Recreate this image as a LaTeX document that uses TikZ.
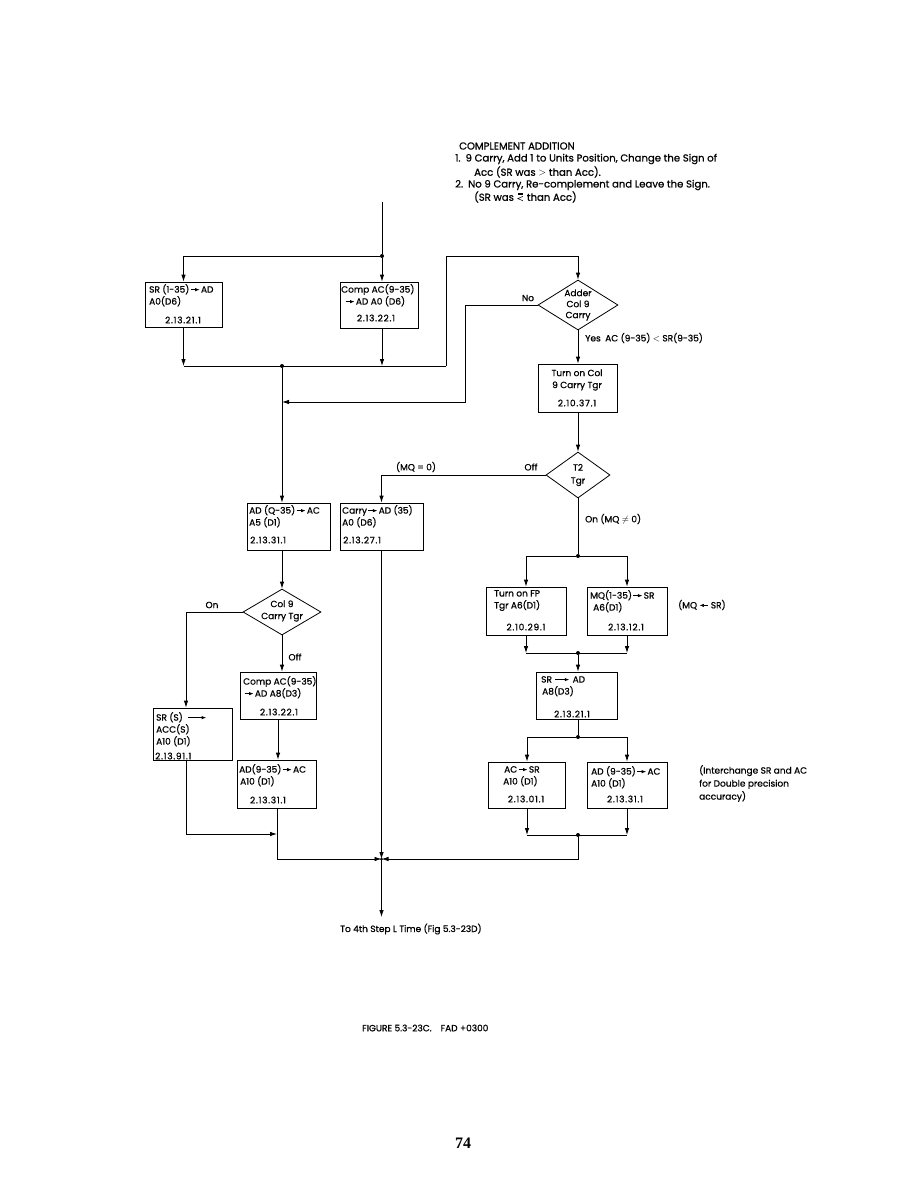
\documentclass[tikz,border=0pt]{standalone}
\usepackage{amsmath,amssymb}
\usepackage{fontspec}
\setmainfont{Poppins}[FakeBold=0.8]
\newfontfamily\numfont[LetterSpace=8,FakeBold=0.8]{Poppins}
\newfontfamily\pgfont{Liberation Serif}
\usetikzlibrary{shapes.geometric,arrows.meta,calc}
\newcommand\myra[1][9]{\kern1pt\tikz[baseline=-0.6ex,x=1pt,y=1pt]\draw[line width=0.7pt,-{Latex[length=4.5pt,width=3.4pt]}](0,0)--(#1,0);\kern1pt}
\newcommand\myla[1][9]{\kern2pt\tikz[baseline=-0.6ex,x=1pt,y=1pt]\draw[line width=0.7pt,{Latex[length=4.5pt,width=3.4pt]}-](0,0)--(#1,0);\kern2pt}
\newcommand\myeqless{\kern1pt\tikz[baseline=0pt,x=1pt,y=1pt]{\draw[line width=0.55pt](5,0)--(0,2.2)--(5,4.4);\draw[line width=0.55pt](0.5,6.2)--(4.8,6.2)(0.5,7.8)--(4.8,7.8);}\kern1pt}
\tikzset{
 box/.style={draw, line width=0.8pt, inner sep=0pt},
 dec/.style={draw, diamond, line width=0.8pt, inner sep=0pt},
 txt/.style={inner sep=0pt, font=\fontsize{9}{12}\selectfont, align=left},
 head/.style={inner sep=0pt, font=\fontsize{10.1}{12}\selectfont, align=left},
 num/.style={inner sep=0pt, font=\fontsize{9}{12}\selectfont\numfont},
 wire/.style={line width=0.8pt},
 arr/.style={line width=0.8pt, -{Latex[length=7pt,width=4.5pt]}},
 dot/.style={circle, fill, inner sep=0pt, minimum size=4pt},
}
\begin{document}
\begin{tikzpicture}[x=1pt,y=-1pt]
\fill[white] (0,0) rectangle (923,1192);
\useasboundingbox (0,0) rectangle (923,1192);

% ---- heading
\node[head,anchor=west] (h0) at (459,146) {COMPLEMENT ADDITION};
\node[head,anchor=west] (h1) at (455,159) {1.\enspace 9 Carry, Add 1 to Units Position, Change the Sign of};
\node[head,anchor=west] (h2) at (474,172) {Acc (SR was $>$ than Acc).};
\node[head,anchor=west] (h3) at (455,185) {2.\enspace No 9 Carry, Re-complement and Leave the Sign.};
\node[head,anchor=west] (h4) at (474,197) {(SR was \myeqless\ than Acc)};

% ---- boxes
\node[box,minimum width=77pt,minimum height=45pt] (sr1) at (183.5,304.5) {};
\node[txt,anchor=north west] (sr1t) at (149,284) {SR (1-35)\myra AD\\A0(D6)};
\node[num] (sr1n) at (183,320) {2.13.21.1};

\node[box,minimum width=78pt,minimum height=46pt] (comp1) at (379,305) {};
\node[txt,anchor=north west] (comp1t) at (341,284) {Comp AC(9-35)\\\hspace*{3pt}\myra AD A0 (D6)};
\node[num] (comp1n) at (376,318) {2.13.22.1};

\node[dec,minimum width=80pt,minimum height=50pt] (adder) at (578,305) {};
\node[txt,align=center,font=\fontsize{9}{11}\selectfont] (addert) at (578,305) {Adder\\Col 9\\Carry};

\node[box,minimum width=79pt,minimum height=48pt] (col9) at (578,388) {};
\node[txt,align=center] (col9t) at (577,380) {Turn on Col\\9 Carry Tgr};
\node[num] (col9n) at (577,403) {2.10.37.1};

\node[dec,minimum width=64pt,minimum height=46pt] (t2) at (578,475) {};
\node[txt,align=center,font=\fontsize{9}{13}\selectfont] (t2t) at (578,475) {T2\\Tgr};

\node[box,minimum width=83pt,minimum height=47pt] (ad1) at (288.5,526.5) {};
\node[txt,anchor=north west] (ad1t) at (249,505) {AD (Q-35)\myra AC\\A5 (D1)};
\node[num,anchor=west] (ad1n) at (250,540) {2.13.31.1};

\node[box,minimum width=83pt,minimum height=47pt] (carry) at (381.5,526.5) {};
\node[txt,anchor=north west] (carryt) at (342,505) {Carry\myra AD (35)\\A0 (D6)};
\node[num,anchor=west] (carryn) at (343,540) {2.13.27.1};

\node[dec,minimum width=78pt,minimum height=46pt] (col9b) at (282,612) {};
\node[txt,align=center] (col9bt) at (282,611) {Col 9\\Carry Tgr};

\node[box,minimum width=76pt,minimum height=47pt] (compac2) at (278,695.5) {};
\node[txt,anchor=north west] (compac2t) at (243,676) {Comp AC(9-35)\\\myra AD A8(D3)};
\node[num] (compac2n) at (279,712) {2.13.22.1};

\node[box,minimum width=79pt,minimum height=52pt] (ssr) at (192.5,734) {};
\node[txt,anchor=north west] (ssrt) at (156,712) {SR (S)\hspace{4pt}\myra[18]\\ACC(S)\\A10 (D1)};
\node[num,anchor=west] (ssrn) at (155,756) {2.13.91.1};

\node[box,minimum width=79pt,minimum height=48pt] (ad4) at (277,784) {};
\node[txt,anchor=north west] (ad4t) at (239,764) {AD(9-35)\myra AC\\\hspace*{1pt}A10 (D1)};
\node[num] (ad4n) at (268,800) {2.13.31.1};

\node[box,minimum width=80pt,minimum height=48pt] (fp) at (526,611) {};
\node[txt,anchor=north west] (fpt) at (494,590) {Turn on FP\\Tgr A6(D1)};
\node[num] (fpn) at (526,627) {2.10.29.1};

\node[box,minimum width=80pt,minimum height=48pt] (mq) at (627,611) {};
\node[txt,anchor=north west] (mqt) at (590,590) {MQ(1-35)\myra SR\\\hspace*{3pt}A6(D1)};
\node[num] (mqn) at (626,627) {2.13.12.1};
\node[txt,anchor=west] (mqnote) at (678,605) {(MQ\myla SR)};

\node[box,minimum width=81pt,minimum height=47pt] (sr2) at (576.5,695.5) {};
\node[txt,anchor=north west] (sr2t) at (541,676) {SR\hspace{2pt}\myra[14]\hspace{2pt}AD\\\hspace*{1pt}A8(D3)};
\node[num] (sr2n) at (572,714) {2.13.21.1};

\node[box,minimum width=77pt,minimum height=46pt] (acsr) at (527,785) {};
\node[txt,anchor=north west] (acsrt) at (503,766) {\hspace*{1pt}AC\myra SR\\A10 (D1)};
\node[num] (acsrn) at (526,799) {2.13.01.1};

\node[box,minimum width=80pt,minimum height=46pt] (ad3) at (627,785) {};
\node[txt,anchor=north west] (ad3t) at (591,766) {AD (9-35)\myra AC\\A10 (D1)};
\node[num] (ad3n) at (625,799) {2.13.31.1};
\node[txt,anchor=north west,font=\fontsize{9}{13}\selectfont] (note) at (699,765) {(Interchange SR and AC\\for Double precision\\accuracy)};

% ---- labels
\node[txt] (lno) at (528,298) {No};
\node[txt,anchor=west] (lyes) at (585,338) {Yes\enspace AC (9-35) $<$ SR(9-35)};
\node[txt] (loff) at (531,467) {Off};
\node[txt] (lmq0) at (416,467) {(MQ = 0)};
\node[txt,anchor=west] (lon) at (585,519) {On (MQ $\neq$ 0)};
\node[txt] (lon2) at (212,605) {On};
\node[txt] (loff2) at (295,657) {Off};
\node[txt,anchor=west] (lout) at (340,929) {To 4th Step L Time (Fig 5.3-23D)};
\node[txt,anchor=west] (fig) at (362,1028) {FIGURE 5.3-23C.\quad FAD +0300};
\node[inner sep=0pt,font=\fontsize{16}{18}\selectfont\pgfont\bfseries] (pg) at (463,1143) {74};

% ---- connectors
\coordinate (in) at (382,202);
\node[dot] (d1) at (382,256) {};
\draw[wire] (in) -- (d1);
\draw[arr] (d1) -- (d1 |- comp1.north);
\draw[arr] (d1) -| (sr1.north);

\node[dot] (d2) at (282,366) {};
\coordinate (m1r) at (446,366);
\coordinate (m1t) at (446,256);
\draw[arr] (sr1.south) -- (sr1.south |- d2);
\draw[arr] (d1 |- comp1.south) -- (d1 |- d2);
\draw[wire] (sr1.south |- d2) -- (m1r);
\draw[arr] (m1r) -- (m1t) -| (adder.north);

\coordinate (n1) at (465,305);
\coordinate (n2) at (465,402);
\coordinate (nj) at (282,402);
\draw[arr] (adder.west) -- (n1) -- (n2) -- (nj);
\draw[arr] (d2) -- (d2 |- ad1.north);

\draw[arr] (adder.south) -- (col9.north);
\draw[arr] (col9.south) -- (t2.north);
\draw[arr] (t2.west) -| (carry.north);

\node[dot] (d3) at (578,556) {};
\draw[wire] (t2.south) -- (d3);
\draw[arr] (d3) -| (fp.north);
\draw[arr] (d3) -| (mq.north);

\node[dot] (d4) at (578,653) {};
\draw[arr] (fp.south) -- (fp.south |- d4);
\draw[arr] (mq.south) -- (mq.south |- d4);
\draw[wire] (fp.south |- d4) -- (mq.south |- d4);
\draw[arr] (d4) -- (d4 |- sr2.north);

\node[dot] (d5) at (578,737) {};
\draw[wire] (d5 |- sr2.south) -- (d5);
\draw[arr] (d5) -| (acsr.north);
\draw[arr] (d5) -| (ad3.north);

\node[dot] (d6) at (578,835) {};
\draw[arr] (acsr.south) -- (acsr.south |- d6);
\draw[arr] (ad3.south) -- (ad3.south |- d6);
\draw[wire] (acsr.south |- d6) -- (ad3.south |- d6);

\node[dot,minimum size=3pt] (j) at (381.5,859) {};
\coordinate (out) at (381.5,917);
\draw[arr] (d6) |- (j.center);
\draw[arr] (carry.south) -- (j.center);
\draw[arr] (j.center) -- (out);

\draw[arr] (d2 |- ad1.south) -- (col9b.north);
\draw[arr] (col9b.south) -- (col9b.south |- compac2.north);
\draw[arr] (compac2.south) -- (compac2.south |- ad4.north);
\coordinate (ol) at (186,612);
\draw[arr] (col9b.west) -- (ol) -- (ol |- ssr.north);
\coordinate (sj) at (277,834);
\draw[arr] (ol |- ssr.south) |- (sj);
\draw[arr] (ad4.south) |- (j.center);
\end{tikzpicture}
\end{document}
